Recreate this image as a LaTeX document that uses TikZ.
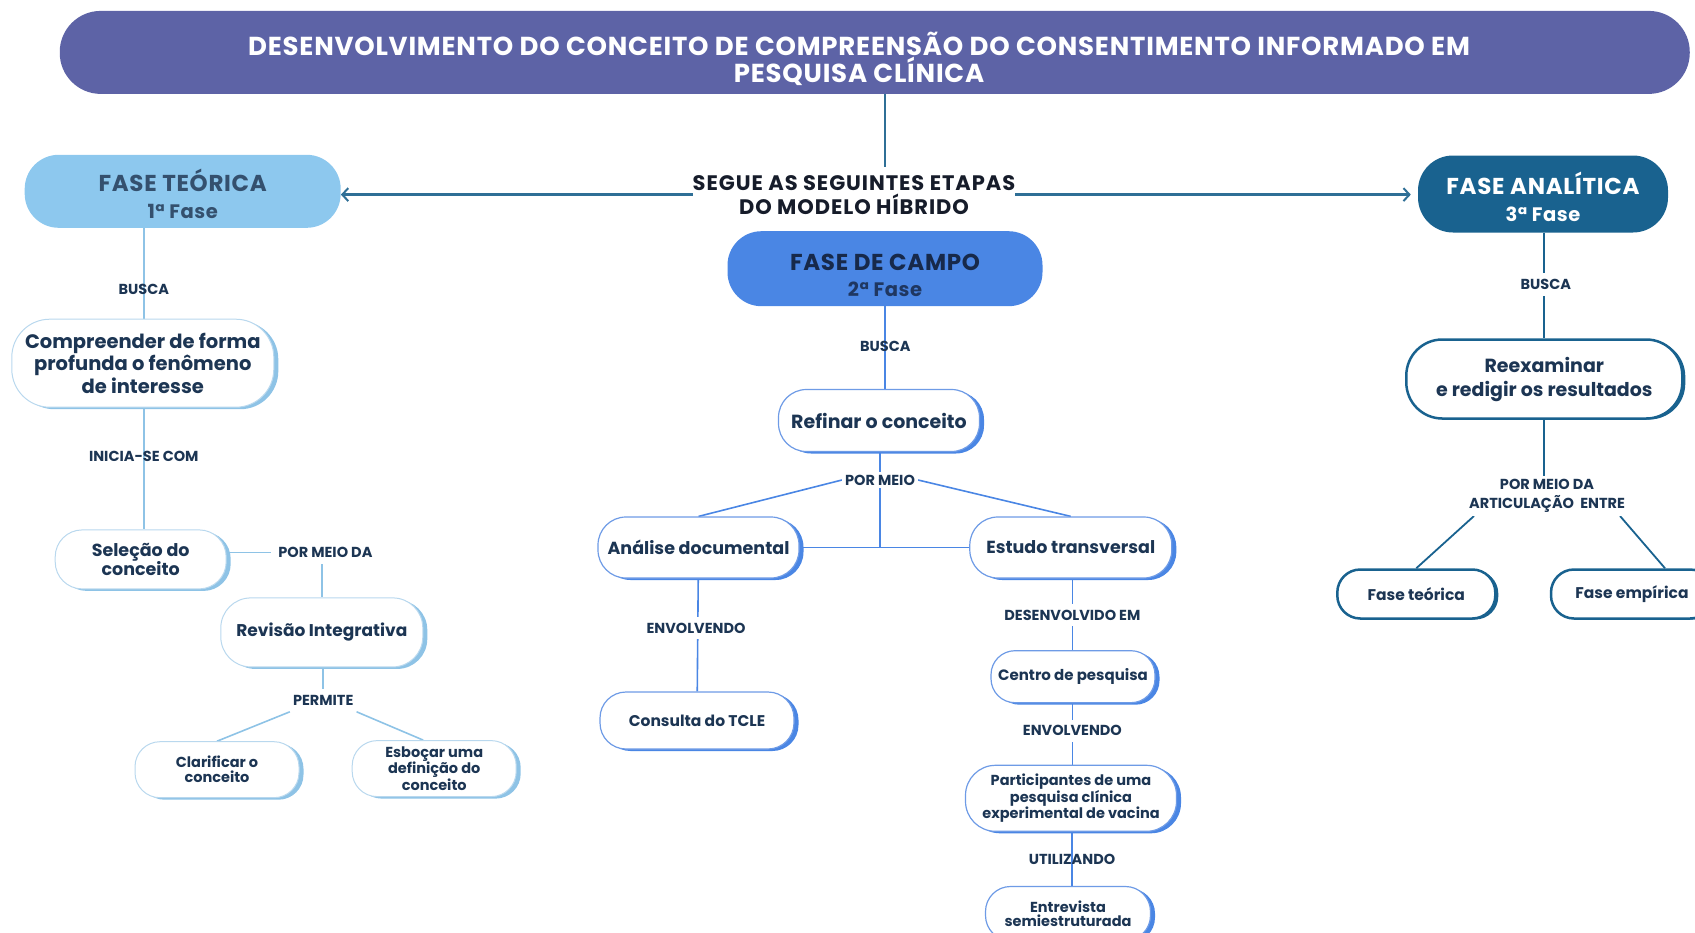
\documentclass[tikz,border=0pt]{standalone}
\usepackage{fontspec}
\setmainfont{Poppins}
\newfontfamily\trackedfont{Poppins}[LetterSpace=3]
\newfontfamily\widetrackedfont{Poppins}[LetterSpace=4.5]
\usetikzlibrary{arrows.meta,shadows,backgrounds}

\definecolor{bannerc}{HTML}{5D63A6}
\definecolor{ink}{HTML}{1C3553}
\definecolor{segueink}{HTML}{161C2A}
\definecolor{teo}{HTML}{8DC8EE}
\definecolor{teoline}{HTML}{8EC3E6}
\definecolor{teoedge}{HTML}{B9D8EE}
\definecolor{teotext}{HTML}{34506E}
\definecolor{campo}{HTML}{4A86E4}
\definecolor{campoedge}{HTML}{6E9BE6}
\definecolor{campotext}{HTML}{17294A}
\definecolor{anal}{HTML}{19628F}
\definecolor{arrowc}{HTML}{2F6F96}

\tikzset{
  fs/.style n args={2}{font=\fontsize{#1}{#2}\selectfont\bfseries},
  tfs/.style n args={2}{font=\trackedfont\fontsize{#1}{#2}\selectfont\bfseries},
  wfs/.style n args={2}{font=\widetrackedfont\fontsize{#1}{#2}\selectfont\bfseries},
  sz/.style n args={3}{minimum width=#1pt, minimum height=#2pt, rounded corners=#3pt},
  box/.style={rectangle, align=center, text=ink, inner sep=0pt, fill=white},
  teobox/.style={box, draw=teoedge, line width=1pt,
    general shadow={fill=teoline, shadow xshift=4.5pt, shadow yshift=-2pt}},
  campobox/.style={box, draw=campoedge, line width=1.2pt,
    general shadow={fill=campo, shadow xshift=4.5pt, shadow yshift=-2pt}},
  analbox/.style={box, draw=anal, line width=2.5pt,
    general shadow={fill=anal, shadow xshift=3pt, shadow yshift=-1pt}},
  phase/.style={rectangle, align=center, inner sep=0pt},
  lbl/.style={fs={14.5}{19.5}, text=ink, fill=white, inner xsep=3pt, inner ysep=6pt, align=center},
  lblthru/.style={lbl, fill=none},
  teoconn/.style={draw=teoline, line width=1.6pt},
  campoconn/.style={draw=campo, line width=1.6pt},
  analconn/.style={draw=anal, line width=1.8pt},
  arr/.style={draw=arrowc, line width=2.4pt, -{Straight Barb[length=6pt,width=13pt,line width=2pt]}},
}

\begin{document}
\begin{tikzpicture}[x=1pt,y=-1pt]
\useasboundingbox (0,0) rectangle (1695,932);
\clip (0,0) rectangle (1695,932);

% title banner
\node[phase, fill=bannerc, sz={1630}{83}{41}] (banner) at (874.75,52.4) {};
\node[tfs={26}{25}, text=white, align=center, inner sep=0pt] (title) at (859,58.9)
  {DESENVOLVIMENTO DO CONCEITO DE COMPREENSÃO DO CONSENTIMENTO INFORMADO EM\\PESQUISA CLÍNICA};

% central statement
\node[wfs={21}{24}, text=segueink, align=center, inner sep=0pt] (segue) at (854,194.6)
  {SEGUE AS SEGUINTES ETAPAS\\DO MODELO HÍBRIDO};

% the three phases
\node[phase, fill=teo, text=teotext, sz={316}{73}{34}, tfs={23}{27}] (ft) at (182.7,191.3)
  {\rule{0pt}{27pt}FASE TEÓRICA\\{\fontsize{19.5}{27}\selectfont 1ª Fase}};
\node[phase, fill=campo, text=campotext, sz={315}{75}{34}, tfs={23}{26}] (fc) at (885,268.7)
  {\rule{0pt}{30pt}FASE DE CAMPO\\{\fontsize{19.5}{26}\selectfont\color{campotext!85!campo} 2ª Fase}};
\node[phase, fill=anal, text=white, sz={250}{77}{35}, tfs={23}{27}] (fa) at (1543,194)
  {\rule{0pt}{29pt}FASE ANALÍTICA\\{\fontsize{19.5}{27}\selectfont 3ª Fase}};

% theoretical phase branch
\node[teobox, sz={262}{88}{38}, fs={19.5}{22.7}] (comp) at (142.8,363.2)
  {Compreender de forma\\profunda o fenômeno\\de interesse};
\node[teobox, sz={171}{59}{27}, fs={17.5}{18.5}] (sel) at (140.7,559.4)
  {Seleção do\\conceito};
\node[teobox, sz={202}{69}{30}, fs={17}{20}] (rev) at (321.8,632.4)
  {Revisão Integrativa};
\node[teobox, sz={164}{56}{25}, fs={14.5}{15}] (clar) at (217,769.7)
  {Clarificar o\\conceito};
\node[teobox, sz={164}{56}{25}, fs={14.5}{15}] (esb) at (434.2,768.6)
  {Esboçar uma\\definição do\\conceito};

\node[lblthru] (busca1) at (143.8,289.7) {BUSCA};
\node[lblthru] (inicia) at (143.8,456.2) {INICIA-SE COM};
\node[lbl] (pmd) at (325.4,552.4) {POR MEIO DA};
\node[lbl] (perm) at (323.2,700.5) {PERMITE};

% field phase branch
\node[campobox, sz={201}{62}{28}, fs={19}{22}] (ref) at (879,420.5)
  {Refinar o conceito};
\node[campobox, sz={201}{61}{28}, fs={17.5}{20}] (an) at (698.5,547.5)
  {Análise documental};
\node[campobox, sz={202}{61}{28}, fs={17.5}{20}] (est) at (1070.8,547.5)
  {Estudo transversal};
\node[campobox, sz={194}{57}{26}, fs={15.5}{18}] (cons) at (697,720.5)
  {Consulta do TCLE};
\node[campobox, sz={164}{52}{24}, fs={15}{18}] (cen) at (1073,676.7)
  {Centro de pesquisa};
\node[campobox, sz={211}{66}{30}, fs={14.5}{14}] (part) at (1071,798.3)
  {Participantes de uma\\pesquisa clínica\\experimental de vacina};
\node[campobox, sz={165}{54}{25}, fs={14.5}{14}] (ent) at (1068,913.5)
  {Entrevista\\semiestruturada};

\node[lblthru] (busca2) at (885.3,346) {BUSCA};
\node[lbl, inner ysep=3pt] (pm) at (880,480) {POR MEIO};
\node[lbl] (env1) at (696,628) {ENVOLVENDO};
\node[lbl] (desenv) at (1072.4,615) {DESENVOLVIDO EM};
\node[lbl] (env2) at (1072.4,730.8) {ENVOLVENDO};
\node[lblthru] (util) at (1072,859.4) {UTILIZANDO};

% analytical phase branch
\node[analbox, sz={276}{79}{36}, fs={19}{24}] (reex) at (1544.3,379)
  {Reexaminar\\e redigir os resultados};
\node[analbox, sz={158}{49}{23}, fs={15.5}{18}] (ft2) at (1416.3,594)
  {Fase teórica};
\node[analbox, sz={162}{49}{23}, fs={15.5}{18}] (fe) at (1632,594)
  {Fase empírica};

\node[lbl] (busca3) at (1545.8,284.3) {BUSCA};
\node[lbl, inner ysep=3pt] (pmda) at (1547,496) {POR MEIO DA\\ARTICULAÇÃO\ \ ENTRE};

\coordinate (jn) at (pm.south |- an.center);

\begin{scope}[on background layer]
  % top connectors
  \draw[draw=arrowc, line width=2.6pt, shorten >=8pt] (banner.south -| fc.north) -- (segue.north -| fc.north);
  \draw[arr] (segue.west) -- (segue.west -| ft.east);
  \draw[arr, shorten >=7pt] (segue.east) -- (segue.east -| fa.west);

  % theoretical phase
  \draw[teoconn] (ft.south -| busca1) -- (comp.north -| busca1);
  \draw[teoconn] (comp.south -| inicia) -- (sel.north -| inicia);
  \draw[teoconn, shorten >=4pt] (sel.east |- pmd.west) -- (pmd.west);
  \draw[teoconn] (pmd.south -| rev.north) -- (rev.north);
  \draw[teoconn] (rev.south -| perm.north) -- (perm.north);
  \draw[teoconn] (perm.south west) -- (clar.north);
  \draw[teoconn] (perm.south east) -- ([xshift=-11pt]esb.north);

  % field phase
  \draw[campoconn] (fc.south) -- (fc.south |- ref.north);
  \draw[campoconn] (ref.south -| pm.north) -- (pm.north);
  \draw[campoconn] (pm.west) -- (an.north);
  \draw[campoconn] (pm.east) -- (est.north);
  \draw[campoconn] (pm.south) -- (jn);
  \draw[campoconn] (an) -- (est);
  \draw[campoconn] (an) -- (cons);
  \draw[campoconn] (est.south -| desenv) -- (cen.north -| desenv);
  \draw[campoconn] (cen.south -| env2) -- (part.north -| env2);
  \draw[campoconn] (part.south -| util) -- (ent.north -| util);

  % analytical phase
  \draw[analconn] (fa.south -| reex.north) -- (reex.north);
  \draw[analconn] (reex.south) -- (pmda.north -| reex.south);
  \draw[analconn] ([xshift=8pt]pmda.south west) -- (ft2.north);
  \draw[analconn] ([xshift=-8pt]pmda.south east) -- ([xshift=33pt]fe.north);
\end{scope}
\end{tikzpicture}
\end{document}
